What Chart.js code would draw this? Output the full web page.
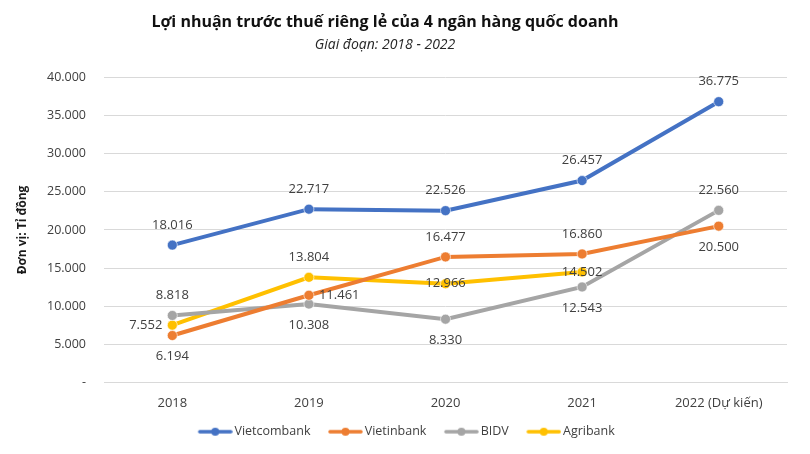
<!DOCTYPE html>
<html>
<head>
<meta charset="utf-8">
<script src="https://cdn.jsdelivr.net/npm/chart.js@4.4.1/dist/chart.umd.min.js"></script>
<style>
  html, body { margin: 0; padding: 0; background: #fff; }
  #wrap { width: 810px; height: 454px; }
</style>
</head>
<body>
<div id="wrap"><canvas id="myChart"></canvas></div>
<script>
// du lieu doc tu hinh
const years = ['2018', '2019', '2020', '2021', '2022 (Dự kiến)'];
const vietcombank = [18016, 22717, 22526, 26457, 36775];
const vietinbank = [6194, 11461, 16477, 16860, 20500];
const bidv = [8818, 10308, 8330, 12543, 22560];
const agribank = [7552, 13804, 12966, 14502, null];
const yTicks = [0, 5000, 10000, 15000, 20000, 25000, 30000, 35000, 40000];

const titleText = 'Lợi nhuận trước thuế riêng lẻ của 4 ngân hàng quốc doanh';
const subtitleText = 'Giai đoạn: 2018 - 2022';

// vi tri nhan so lieu
const vcbLabelPos = ['top', 'top', 'top', 'top', 'top'];
const vtbLabelPos = ['bottom', 'right', 'top', 'top', 'bottom'];
const bidvLabelPos = ['top', 'bottom', 'bottom', 'bottom', 'top'];
const agriLabelPos = ['left', 'top', 'center', 'center', null];

const FONT = '"Open Sans", "Noto Sans", sans-serif';

function fmt(v) {
  if (v === 0) return '-';
  return v.toLocaleString('de-DE');
}

// icon chu giai: duong + cham tron (chua khoang trong ben trai)
function legendIcon(color) {
  const c = document.createElement('canvas');
  c.width = 48; c.height = 10;
  const g = c.getContext('2d');
  g.strokeStyle = color;
  g.lineWidth = 3.5;
  g.lineCap = 'round';
  g.beginPath(); g.moveTo(15, 5); g.lineTo(46, 5); g.stroke();
  g.fillStyle = color;
  g.beginPath(); g.arc(30.5, 5, 4, 0, Math.PI * 2); g.fill();
  return c;
}

// tieu de ve tay (lech trai mot chut nhu ban goc)
const headerPlugin = {
  id: 'header',
  afterDraw(chart) {
    const ctx = chart.ctx;
    ctx.save();
    ctx.textAlign = 'center';
    ctx.textBaseline = 'middle';
    ctx.fillStyle = '#111';
    ctx.font = 'bold 16px ' + FONT;
    ctx.fillText(titleText, 385, 22);
    ctx.fillStyle = '#262626';
    ctx.font = 'italic 14px ' + FONT;
    ctx.fillText(subtitleText, 385, 45);
    ctx.restore();
  }
};

const labelPlugin = {
  id: 'valueLabels',
  afterDatasetsDraw(chart) {
    const ctx = chart.ctx;
    ctx.save();
    ctx.font = '13px ' + FONT;
    ctx.fillStyle = '#404040';
    ctx.textBaseline = 'middle';
    chart.data.datasets.forEach((ds, i) => {
      const meta = chart.getDatasetMeta(i);
      meta.data.forEach((pt, j) => {
        const v = ds.data[j];
        if (v === null) return;
        const pos = ds.labelPos[j];
        const txt = fmt(v);
        let x = pt.x, y = pt.y;
        ctx.textAlign = 'center';
        if (pos === 'top') y -= 20;
        else if (pos === 'bottom') y += 21;
        else if (pos === 'left') { ctx.textAlign = 'right'; x -= 10; }
        else if (pos === 'right') { ctx.textAlign = 'left'; x += 10; }
        ctx.fillText(txt, x, y);
      });
    });
    ctx.restore();
  }
};

function series(label, data, color, pos) {
  return {
    label: label,
    data: data,
    labelPos: pos,
    borderColor: color,
    backgroundColor: color,
    borderWidth: 4,
    pointRadius: 5,
    pointHoverRadius: 5,
    pointBackgroundColor: color,
    pointBorderColor: 'rgba(255,255,255,0.6)',
    pointBorderWidth: 1,
    tension: 0,
    spanGaps: false,
    icon: legendIcon(color)
  };
}

new Chart(document.getElementById('myChart'), {
  type: 'line',
  data: {
    labels: years,
    datasets: [
      series('Vietcombank', vietcombank, '#4472C4', vcbLabelPos),
      series('Vietinbank', vietinbank, '#ED7D31', vtbLabelPos),
      series('BIDV', bidv, '#A5A5A5', bidvLabelPos),
      series('Agribank', agribank, '#FFC000', agriLabelPos)
    ]
  },
  options: {
    responsive: true,
    maintainAspectRatio: false,
    animation: false,
    layout: { padding: { left: 17, right: 23, top: 77, bottom: 6 } },
    plugins: {
      title: { display: false },
      legend: {
        position: 'bottom',
        labels: {
          usePointStyle: true,
          pointStyleWidth: 39,
          boxHeight: 10,
          padding: 9,
          color: '#404040',
          font: { family: FONT, size: 12.5 },
          generateLabels(chart) {
            return chart.data.datasets.map((ds, i) => ({
              text: ds.label,
              pointStyle: ds.icon,
              fillStyle: ds.borderColor,
              strokeStyle: ds.borderColor,
              lineWidth: 0,
              datasetIndex: i,
              fontColor: '#404040',
              hidden: false
            }));
          }
        }
      },
      tooltip: { enabled: false }
    },
    scales: {
      x: {
        offset: true,
        grid: { display: false },
        border: { display: true, color: '#d9d9d9' },
        ticks: { color: '#404040', font: { family: FONT, size: 13 }, padding: 5 }
      },
      y: {
        min: 0,
        max: 40000,
        afterBuildTicks(axis) { axis.ticks = yTicks.map(v => ({ value: v })); },
        grid: { color: '#d9d9d9', drawTicks: false },
        border: { display: false },
        ticks: {
          color: '#404040',
          font: { family: FONT, size: 12.5 },
          padding: 18,
          callback: v => fmt(v)
        },
        title: {
          display: true,
          text: 'Đơn vị: Tỉ đồng',
          color: '#1a1a1a',
          font: { family: FONT, size: 12, weight: 'bold', lineHeight: 1 },
          padding: { top: 0, bottom: 0 }
        }
      }
    }
  },
  plugins: [labelPlugin, headerPlugin]
});
</script>
</body>
</html>
